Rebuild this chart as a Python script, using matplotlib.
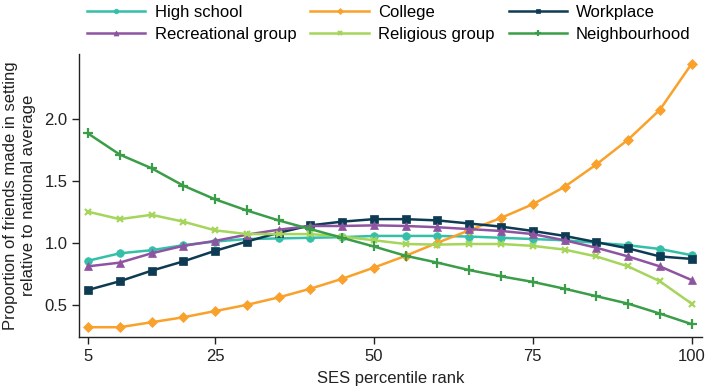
import numpy as np
import matplotlib.pyplot as plt

plt.rcParams['font.family'] = ['Liberation Sans', 'DejaVu Sans']

ses = [5, 10, 15, 20, 25, 30, 35, 40, 45, 50, 55, 60, 65, 70, 75, 80, 85, 90, 95, 100]

high_school = [0.855, 0.915, 0.94, 0.98, 1.01, 1.03, 1.035, 1.04, 1.045, 1.055,
               1.055, 1.055, 1.05, 1.04, 1.03, 1.02, 1.0, 0.98, 0.95, 0.9]
college = [0.32, 0.32, 0.36, 0.40, 0.45, 0.50, 0.56, 0.63, 0.71, 0.80,
           0.895, 1.0, 1.10, 1.20, 1.31, 1.45, 1.63, 1.83, 2.07, 2.44]
workplace = [0.62, 0.69, 0.775, 0.85, 0.935, 1.01, 1.08, 1.14, 1.17, 1.19,
             1.19, 1.18, 1.155, 1.13, 1.095, 1.055, 1.005, 0.955, 0.89, 0.87]
recreational = [0.81, 0.84, 0.915, 0.975, 1.015, 1.065, 1.105, 1.135, 1.135, 1.14,
                1.135, 1.125, 1.11, 1.095, 1.07, 1.02, 0.96, 0.89, 0.81, 0.70]
religious = [1.25, 1.19, 1.225, 1.17, 1.10, 1.07, 1.07, 1.07, 1.05, 1.02,
             0.99, 0.985, 0.99, 0.99, 0.975, 0.945, 0.89, 0.81, 0.69, 0.51]
neighbourhood = [1.88, 1.71, 1.60, 1.46, 1.35, 1.26, 1.18, 1.11, 1.04, 0.97,
                 0.895, 0.84, 0.78, 0.73, 0.685, 0.63, 0.57, 0.51, 0.43, 0.345]

series = [
    ("High school", high_school, "#33bfa8", "o", 5.5),
    ("College", college, "#f9a12a", "D", 5),
    ("Workplace", workplace, "#0e3b54", "s", 5.5),
    ("Recreational group", recreational, "#8e54a2", "^", 6),
    ("Religious group", religious, "#a5d55a", "x", 5),
    ("Neighbourhood", neighbourhood, "#3a9d48", "+", 6.5),
]

fig = plt.figure(figsize=(7.06, 3.88), dpi=100)
ax = fig.add_axes([0.112, 0.131, 0.882, 0.73])

lines = {}
for name, vals, col, mk, ms in series:
    lines[name], = ax.plot(ses, vals, color=col, marker=mk, markersize=ms, linewidth=1.8,
                           markeredgewidth=1.6 if mk in "x+" else 0.5, label=name)

ax.set_xlim(3.6, 101.6)
ax.set_ylim(0.24, 2.52)
ax.set_xticks([5, 25, 50, 75, 100])
ax.set_yticks([0.5, 1.0, 1.5, 2.0])
ax.set_yticklabels(["0.5", "1.0", "1.5", "2.0"])
ax.tick_params(labelsize=12, length=5, width=1, colors="#222222")
for s in ["top", "right"]:
    ax.spines[s].set_visible(False)
for s in ["left", "bottom"]:
    ax.spines[s].set_linewidth(1)
    ax.spines[s].set_color("#222222")

ax.set_xlabel("SES percentile rank", fontsize=12, color="#222222", labelpad=5)
ax.set_ylabel("Proportion of friends made in setting\nrelative to national average",
              fontsize=12, color="#222222", labelpad=6)

# legend fills column by column, so order handles to read row-wise
order = ["High school", "Recreational group", "College", "Religious group",
         "Workplace", "Neighbourhood"]
fig.legend([lines[n] for n in order], order, loc="upper left",
           bbox_to_anchor=(0.114, 1.005), ncol=3, frameon=False,
           fontsize=12, handlelength=3.5, handletextpad=0.55, columnspacing=0.85,
           labelspacing=0.45, borderaxespad=0, markerscale=0.6)

fig.savefig("out.png", dpi=100)
